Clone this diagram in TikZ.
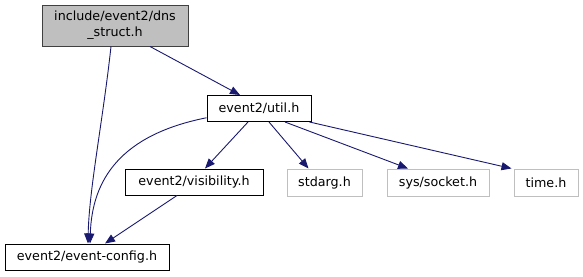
\documentclass[tikz,border=0pt]{standalone}
\usepackage{fontspec}
\setmainfont{DejaVu Sans}
\usetikzlibrary{arrows.meta,calc}
\definecolor{edgeblue}{HTML}{191970}
\definecolor{rootfill}{HTML}{BFBFBF}
\definecolor{rootdraw}{HTML}{404040}
\definecolor{sysdraw}{HTML}{BFBFBF}
\tikzset{
  % Include file boxes, as in the doxygen graph.
  hdr/.style    = {rectangle, draw=black, fill=white, line width=1pt, inner sep=0pt,
                   align=center, font=\fontsize{12.7}{16}\selectfont, minimum height=26pt},
  roothdr/.style = {hdr, draw=rootdraw, fill=rootfill, minimum height=41pt},
  syshdr/.style = {hdr, draw=sysdraw, minimum height=27pt},
  dep/.style    = {-{Triangle[length=10pt,width=8pt]}, edgeblue, line width=0.9pt},
}

\begin{document}
\begin{tikzpicture}[x=1pt,y=-1pt]
\useasboundingbox (0,0) rectangle (583,276);
% header boxes
\node[roothdr, minimum width=146pt] (root)   at (115,25.5)  {include/event2/dns\\\_struct.h};
\node[hdr,     minimum width=104pt] (util)   at (259,108.5) {event2/util.h};
\node[hdr,     minimum width=138pt] (vis)    at (194,182)   {event2/visibility.h};
\node[hdr,     minimum width=164pt] (config) at (87,257)    {event2/event-config.h};
\node[syshdr,  minimum width=75pt]  (stdarg) at (324.5,182.5) {stdarg.h};
\node[syshdr,  minimum width=102pt] (socket) at (438,182.5) {sys/socket.h};
\node[syshdr,  minimum width=64pt]  (time)   at (546,182.5) {time.h};

% straight include edges
\foreach \a/\sa/\b/\sb in {root/35/util/-19, util/-11/vis/11, util/10/stdarg/-16,
                           util/26/socket/-30, vis/-17/config/18} {
  \draw[dep] ([xshift=\sa pt]\a.south) -- ([xshift=\sb pt]\b.north);
}
\draw[dep] ([xshift=-2pt]util.south east) -- ([xshift=-2pt]time.north west);

% curved include edges
\draw[dep] ([xshift=-4pt]root.south) .. controls (103,120) and (89,190) .. ([xshift=1pt]config.north);
\draw[dep] (util.190) .. controls (120,135) and (92,180) .. ([xshift=3pt]config.north);
\end{tikzpicture}
\end{document}
